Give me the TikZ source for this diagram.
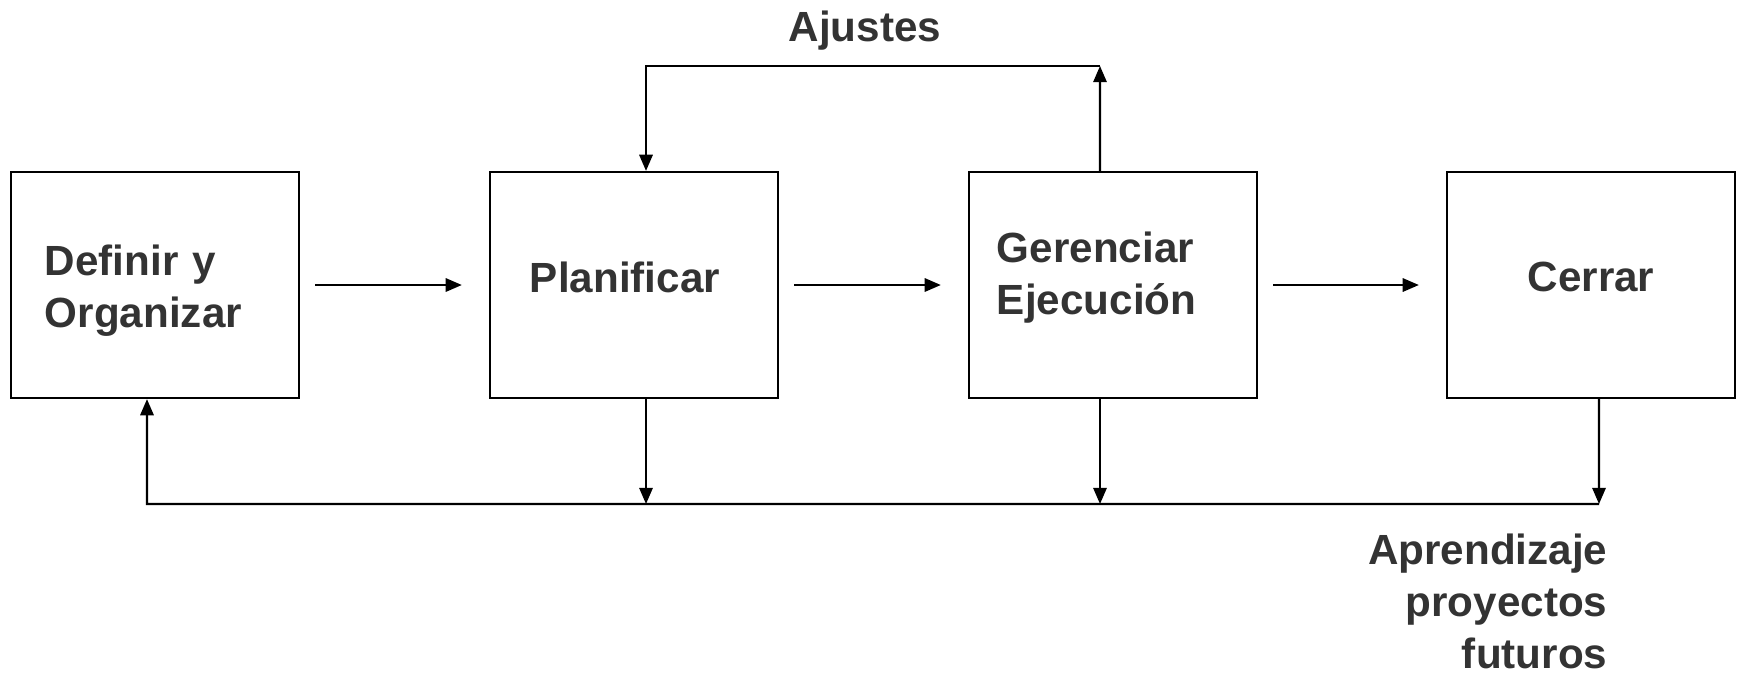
\documentclass[tikz,border=0pt]{standalone}
\usepackage{fontspec}
\setmainfont{Liberation Sans}
\usetikzlibrary{arrows.meta,calc}
\definecolor{txtgray}{HTML}{333333}

\begin{document}
\begin{tikzpicture}[x=0.01cm, y=-0.01cm,
	box/.style={draw, line width=0.6pt, minimum width=2.88cm, minimum height=2.26cm, inner sep=0pt, text=txtgray, font=\fontsize{12}{14.8}\selectfont\bfseries},
	lbl/.style={text=txtgray, inner sep=0pt, font=\fontsize{12}{14.8}\selectfont\bfseries},
	flow/.style={line width=0.6pt, -{Triangle[length=4.6pt, width=3.8pt]}}]
			%%%%% START %%%%%
			
			\useasboundingbox (0, 0) rectangle (1737, 672);
			
			\node[box, text width=2.20cm, align=left, text depth=0.50cm] (def) at (155, 285) {Definir y\\Organizar};
			\node[box, text width=2.08cm, align=left, text depth=0.16cm] (plan) at (634, 285) {Planificar};
			\node[box, text width=2.32cm, align=left, text depth=0.75cm] (ger) at (1113, 285) {Gerenciar\\Ejecución};
			\node[box, align=center, text depth=0.16cm] (cer) at (1591, 285) {Cerrar};
			
			\draw[flow] ([xshift=0.15cm]def.east) -- ([xshift=-0.27cm]plan.west);
			\draw[flow] ([xshift=0.15cm]plan.east) -- ([xshift=-0.27cm]ger.west);
			\draw[flow] ([xshift=0.15cm]ger.east) -- ([xshift=-0.27cm]cer.west);
			
			% ajustes
			\coordinate (topR) at (1100, 66);
			\draw[flow] ([xshift=-0.13cm]ger.north) -- (topR);
			\draw[flow] (topR) -| ([xshift=0.12cm]plan.north);
			\node[lbl, anchor=base] (aju) at (865, 41) {Ajustes};
			
			% aprendizaje
			\coordinate (botL) at (147, 504);
			\coordinate (botR) at (1599, 504);
			\draw[flow] ([xshift=0.12cm]plan.south) -- ([xshift=0.12cm]plan.south |- botL);
			\draw[flow] ([xshift=-0.13cm]ger.south) -- ([xshift=-0.13cm]ger.south |- botL);
			\draw[flow] ([xshift=0.08cm]cer.south) -- (botR);
			\draw[flow] (botR) -- (botL) -- ([xshift=-0.08cm]def.south);
			\node[lbl, align=right, anchor=north east] (apr) at (1608, 533) {Aprendizaje\\proyectos\\futuros};
			
			%%%%% END %%%%%
\end{tikzpicture}
\end{document}
